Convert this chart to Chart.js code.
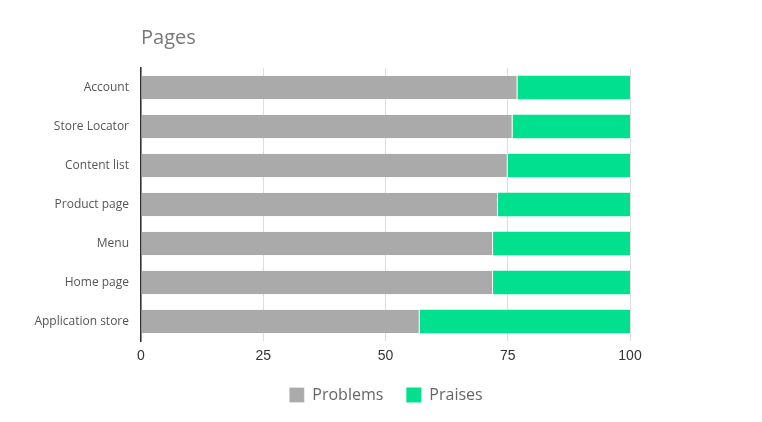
<!DOCTYPE html>
<html>
<head>
<meta charset="utf-8">
<script src="https://cdn.jsdelivr.net/npm/chart.js@4/dist/chart.umd.min.js"></script>
<style>
  html,body{margin:0;padding:0;background:#fff;}
  #wrap{width:762px;height:422px;position:relative;}
</style>
</head>
<body>
<div id="wrap"><canvas id="chart"></canvas></div>
<script>
const pages = ['Account','Store Locator','Content list','Product page','Menu','Home page','Application store'];
const problems = [77, 76, 75, 73, 72, 72, 57];
const praises = [23, 24, 25, 27, 28, 28, 43];
const xTicks = [0, 25, 50, 75, 100];

const FONT = "'Open Sans', sans-serif";

// title drawn at chart area left like the reference
const titlePlugin = {
  id:'leftTitle',
  afterDraw(chart){
    const c = chart.ctx;
    c.save();
    c.font = "20px " + FONT;
    c.fillStyle = '#777';
    c.textBaseline = 'alphabetic';
    c.fillText('Pages', chart.chartArea.left, 44);
    c.restore();
  }
};

new Chart(document.getElementById('chart'), {
  type:'bar',
  data:{
    labels: pages,
    datasets:[
      {label:'Problems', data:problems, backgroundColor:'#aaaaaa', borderColor:'#fff', borderWidth:{right:1}, borderSkipped:false,
       barPercentage:0.6, categoryPercentage:1},
      {label:'Praises', data:praises, backgroundColor:'#00e08f', borderColor:'#fff', borderWidth:0,
       barPercentage:0.6, categoryPercentage:1}
    ]
  },
  options:{
    indexAxis:'y',
    responsive:true,
    maintainAspectRatio:false,
    animation:false,
    layout:{padding:{top:68, right:0, bottom:9, left:10}},
    scales:{
      x:{
        stacked:true, min:0, max:100,
        afterBuildTicks(ax){ ax.ticks = xTicks.map(v=>({value:v})); },
        afterFit(ax){ ax.height = 23; },
        grid:{color:'#dddddd', lineWidth:1, drawTicks:false},
        border:{display:false},
        ticks:{color:'#333', font:{family:"'Liberation Sans', Arial, sans-serif", size:14}, padding:7}
      },
      y:{
        stacked:true,
        afterFit(ax){ ax.width = 131; },
        grid:{display:false, drawTicks:false},
        border:{display:true, color:'#333', width:1.5},
        ticks:{color:'#555', font:{family:FONT, size:12}, padding:12}
      },
      // empty right axis only to reserve the right margin
      r:{
        axis:'y', position:'right', display:true,
        afterFit(ax){ ax.width = 132; },
        grid:{display:false, drawTicks:false},
        border:{display:false},
        ticks:{display:false}
      }
    },
    plugins:{
      legend:{
        position:'bottom',
        labels:{color:'#666', font:{family:FONT, size:16}, boxWidth:15, boxHeight:15, padding:23}
      },
      tooltip:{enabled:false}
    }
  },
  plugins:[titlePlugin]
});
</script>
</body>
</html>
